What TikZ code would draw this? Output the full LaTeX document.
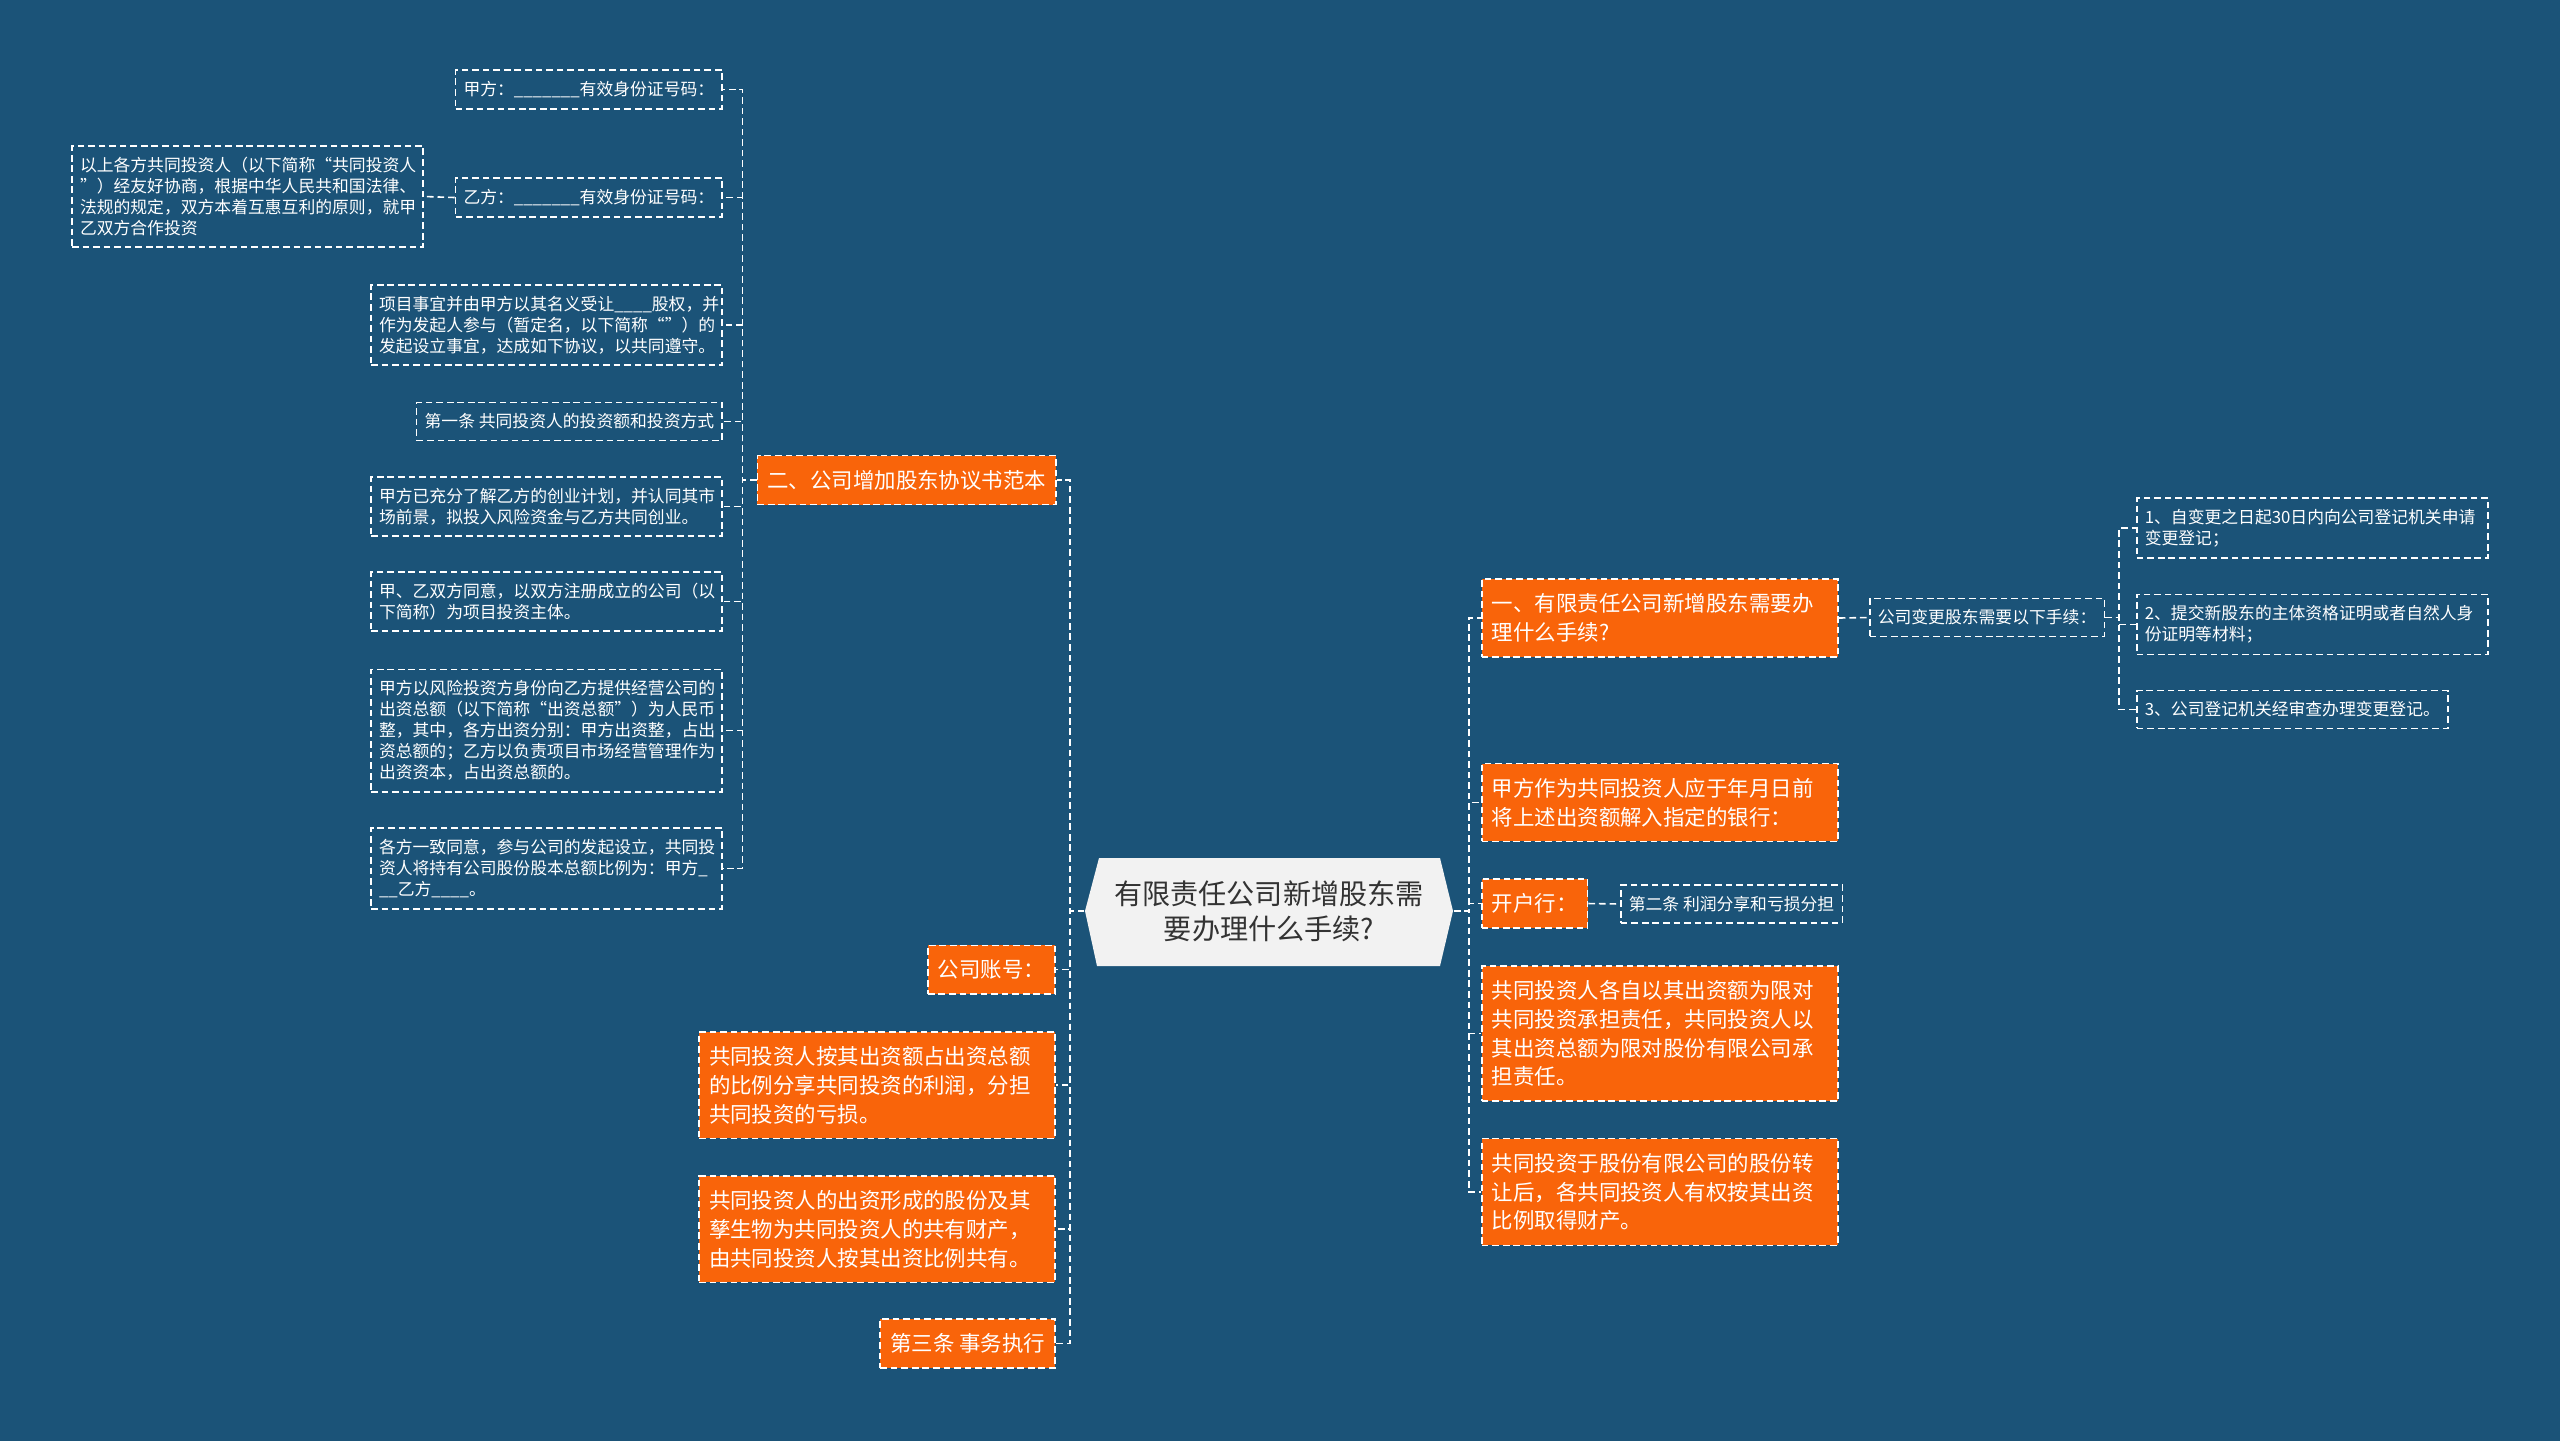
\documentclass[tikz,border=0pt]{standalone}
\usepackage{fontspec}
\setmainfont{Noto Sans CJK SC}
\usepackage{tikz}
\usetikzlibrary{positioning,calc}
\usepackage{xcolor}

\definecolor{bgblue}{RGB}{27,83,120}
\definecolor{topicorange}{RGB}{249,100,10}
\definecolor{rootgrey}{RGB}{242,242,242}
\definecolor{roottext}{RGB}{51,51,51}

\tikzset{
  dashline/.style={draw=white, line width=0.45pt, dash pattern=on 1.9pt off 1.1pt},
  leaf/.style={dashline, text=white, font=\fontsize{4.78pt}{6pt}\selectfont,
    inner xsep=0.08cm, inner ysep=0.11cm, align=left},
  leafwide/.style={leaf, text width=3.35cm},
  topic/.style={dashline, fill=topicorange, text=white, font=\fontsize{6.1pt}{8.2pt}\selectfont,
    inner xsep=0.1cm, inner ysep=0.145cm, align=left},
  topicwide/.style={topic, text width=3.36cm},
  link/.style={dashline},
  rootbox/.style={minimum width=3.68cm, minimum height=1.08cm, inner sep=0pt,
    text=roottext, font=\fontsize{8pt}{10pt}\selectfont, align=center}
}

\begin{document}
\begin{tikzpicture}[x=0.01cm, y=-0.01cm]
        % Fundo
        \fill[bgblue] (0,0) rectangle (2560,1441);
        \useasboundingbox (0,0) rectangle (2560,1441);

        % Raiz
        \fill[rootgrey] (1085,911) -- (1099,858) -- (1440,858) -- (1453,911)
            -- (1440,966) -- (1097,966) -- cycle;
        \node[rootbox] (root) at (1269,911) {有限责任公司新增股东需\\要办理什么手续?};

        % Ramo esquerdo
        \node[topic, anchor=east] (two) at (1057,480) {二、公司增加股东协议书范本};
        \node[topic, anchor=east] (acct) at (1056,969.5) {公司账号：};
        \node[topicwide, anchor=east] (share) at (1056,1085) {共同投资人按其出资额占出资总额\\的比例分享共同投资的利润，分担\\共同投资的亏损。};
        \node[topicwide, anchor=east] (prop) at (1056,1229) {共同投资人的出资形成的股份及其\\孳生物为共同投资人的共有财产，\\由共同投资人按其出资比例共有。};
        \node[topic, anchor=east] (third) at (1056,1343.5) {第三条 事务执行};

        % Folhas do ramo "二"
        \node[leaf, anchor=east] (jia) at (723,89.5) {甲方：\_\_\_\_\_\_\_有效身份证号码：};
        \node[leaf, anchor=east] (yi) at (723,197.5) {乙方：\_\_\_\_\_\_\_有效身份证号码：};
        \node[leafwide, anchor=east] (above) at (424,196.5) {以上各方共同投资人（以下简称“共同投资人\\”）经友好协商，根据中华人民共和国法律、\\法规的规定，双方本着互惠互利的原则，就甲\\乙双方合作投资};
        \node[leafwide, anchor=east] (proj) at (723,325) {项目事宜并由甲方以其名义受让\_\_\_\_股权，并\\作为发起人参与（暂定名，以下简称“”）的\\发起设立事宜，达成如下协议，以共同遵守。};
        \node[leaf, anchor=east] (art1) at (723,421.5) {第一条 共同投资人的投资额和投资方式};
        \node[leafwide, anchor=east] (know) at (723,506.5) {甲方已充分了解乙方的创业计划，并认同其市\\场前景，拟投入风险资金与乙方共同创业。};
        \node[leafwide, anchor=east] (agree) at (723,601.5) {甲、乙双方同意，以双方注册成立的公司（以\\下简称）为项目投资主体。};
        \node[leafwide, anchor=east] (risk) at (723,730.5) {甲方以风险投资方身份向乙方提供经营公司的\\出资总额（以下简称“出资总额”）为人民币\\整，其中，各方出资分别：甲方出资整，占出\\资总额的；乙方以负责项目市场经营管理作为\\出资资本，占出资总额的。};
        \node[leafwide, anchor=east] (all) at (723,868.5) {各方一致同意，参与公司的发起设立，共同投\\资人将持有公司股份股本总额比例为：甲方\_\\\_\_乙方\_\_\_\_。};

        % Ramo direito
        \node[topicwide, anchor=west] (one) at (1481,618) {一、有限责任公司新增股东需要办\\理什么手续?};
        \node[topicwide, anchor=west] (pay) at (1481,802.5) {甲方作为共同投资人应于年月日前\\将上述出资额解入指定的银行：};
        \node[topic, anchor=west] (bank) at (1481,903.5) {开户行：};
        \node[topicwide, anchor=west] (liab) at (1481,1033.5) {共同投资人各自以其出资额为限对\\共同投资承担责任，共同投资人以\\其出资总额为限对股份有限公司承\\担责任。};
        \node[topicwide, anchor=west] (trans) at (1481,1192) {共同投资于股份有限公司的股份转\\让后，各共同投资人有权按其出资\\比例取得财产。};

        \node[leaf, anchor=west] (art2) at (1620,904) {第二条 利润分享和亏损分担};
        \node[leaf, anchor=west] (change) at (1869,617.5) {公司变更股东需要以下手续：};
        \node[leafwide, anchor=west] (step1) at (2136,528) {1、自变更之日起30日内向公司登记机关申请\\变更登记；};
        \node[leafwide, anchor=west] (step2) at (2136,624.5) {2、提交新股东的主体资格证明或者自然人身\\份证明等材料；};
        \node[leaf, anchor=west] (step3) at (2136,709.5) {3、公司登记机关经审查办理变更登记。};

        % Ligacoes
        \foreach \n in {two, acct, share, prop, third}
            \draw[link] (root.west) -- ++(-14,0) |- (\n.east);
        \foreach \n in {one, pay, bank, liab, trans}
            \draw[link] (root.east) -- ++(15,0) |- (\n.west);
        \foreach \n in {jia, yi, proj, art1, know, agree, risk, all}
            \draw[link] (two.west) -- ++(-14,0) |- (\n.east);
        \draw[link] (yi.west) -- (above.east);
        \draw[link] (one.east) -- (change.west);
        \draw[link] (bank.east) -- (art2.west);
        \foreach \n in {step1, step2, step3}
            \draw[link] (change.east) -- ++(14,0) |- (\n.west);
    \end{tikzpicture}
\end{document}
